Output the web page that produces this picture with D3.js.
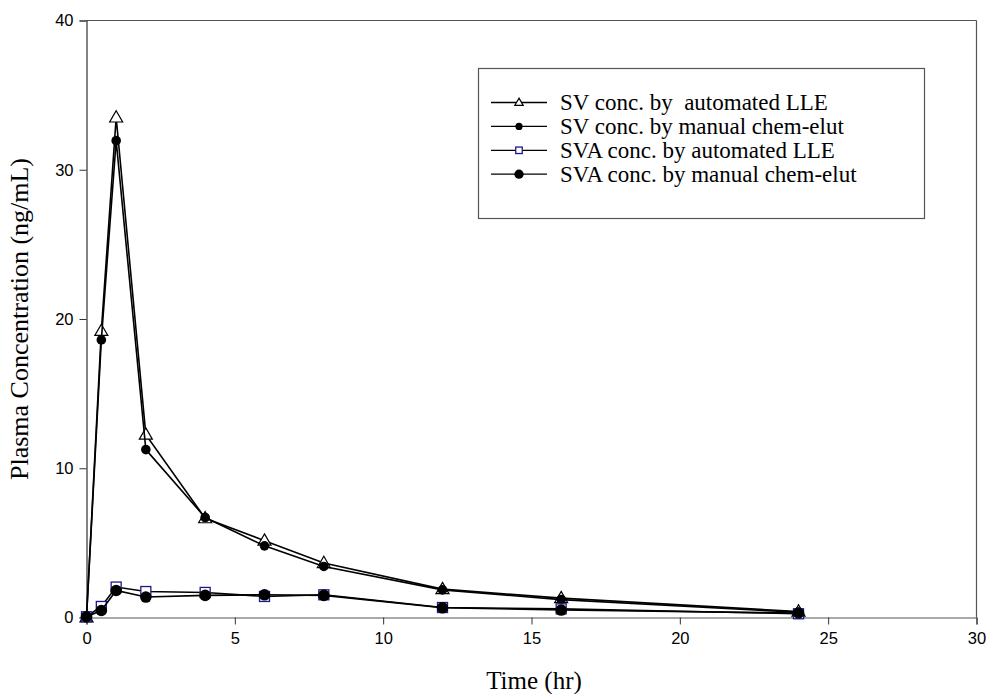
<!DOCTYPE html>
<html><head><meta charset="utf-8">
<script src="https://cdn.jsdelivr.net/npm/d3@7"></script>
<style>body{margin:0;background:#fff}svg{display:block}</style>
</head><body>
<svg id="c" width="987" height="694"></svg>
<script>
const times = [0, 0.5, 1, 2, 4, 6, 8, 12, 16, 24];
const svAuto = [0, 19.2, 33.5, 12.25, 6.65, 5.15, 3.65, 1.9, 1.3, 0.4];
const svManual = [0, 18.6, 31.95, 11.25, 6.7, 4.8, 3.42, 1.85, 1.2, 0.35];
const svaAuto = [0.05, 0.74, 2.04, 1.74, 1.68, 1.41, 1.52, 0.67, 0.58, 0.25];
const svaManual = [0.05, 0.47, 1.81, 1.37, 1.48, 1.52, 1.48, 0.65, 0.5, 0.3];
const seriesNames = ["SV conc. by\u00a0 automated LLE", "SV conc. by manual chem-elut", "SVA conc. by automated LLE", "SVA conc. by manual chem-elut"];
const xTicks = [0, 5, 10, 15, 20, 25, 30];
const yTicks = [0, 10, 20, 30, 40];

const svg = d3.select("#c");
const x = d3.scaleLinear().domain([0, 30]).range([86.5, 976.5]);
const y = d3.scaleLinear().domain([0, 40]).range([617.5, 20.5]);

const series = [
  {name: seriesNames[0], vals: svAuto, sym: "tri"},
  {name: seriesNames[1], vals: svManual, sym: "dot"},
  {name: seriesNames[2], vals: svaAuto, sym: "sq"},
  {name: seriesNames[3], vals: svaManual, sym: "bigdot"}
];

const serif = "Liberation Serif, Times New Roman, serif";

// frame
svg.append("line").attr("x1", x(0)).attr("x2", x(30)).attr("y1", y(40)).attr("y2", y(40)).attr("stroke", "#555").attr("stroke-width", 1.2);
svg.append("line").attr("x1", x(30)).attr("x2", x(30)).attr("y1", y(40)).attr("y2", y(0)).attr("stroke", "#555").attr("stroke-width", 1.2);

const xa = svg.append("g").attr("transform", `translate(0,${y(0)})`)
  .call(d3.axisBottom(x).tickValues(xTicks).tickSize(7).tickPadding(8).tickFormat(d3.format("d")));
const ya = svg.append("g").attr("transform", `translate(${x(0)},0)`)
  .call(d3.axisLeft(y).tickValues(yTicks).tickSize(7).tickPadding(6).tickFormat(d3.format("d")));
[xa, ya].forEach(a => {
  a.select(".domain").attr("stroke", "#333").attr("stroke-width", 1.2);
  a.selectAll(".tick line").attr("stroke", "#333");
  a.selectAll("text").attr("font-family", "Liberation Sans, Arial, sans-serif").attr("font-size", 16.5).attr("fill", "#000");
});
xa.select(".domain").attr("stroke", "#555");

function drawSym(g, sym, cx, cy, scale) {
  if (sym === "tri") {
    const s = 13 * scale;
    const h = s * 0.866;
    g.append("path").attr("d", `M${cx},${cy - h * 0.6}L${cx + s / 2},${cy + h * 0.4}L${cx - s / 2},${cy + h * 0.4}Z`)
      .attr("fill", "#fff").attr("stroke", "#000").attr("stroke-width", 1.2);
  } else if (sym === "dot") {
    g.append("circle").attr("cx", cx).attr("cy", cy).attr("r", 4.8 * scale).attr("fill", "#000");
  } else if (sym === "sq") {
    const s = 10 * scale;
    g.append("rect").attr("x", cx - s / 2).attr("y", cy - s / 2).attr("width", s).attr("height", s)
      .attr("fill", "#fff").attr("stroke", "#1a1a8c").attr("stroke-width", 1.3);
  } else {
    g.append("circle").attr("cx", cx).attr("cy", cy).attr("r", 5.8 * scale).attr("fill", "#000");
  }
}

const line = d3.line().x(d => x(d[0])).y(d => y(d[1]));
series.forEach(s => {
  const pts = times.map((t, i) => [t, s.vals[i]]);
  const g = svg.append("g");
  g.append("path").attr("d", line(pts)).attr("fill", "none").attr("stroke", "#000").attr("stroke-width", 1.6);
  pts.forEach(p => drawSym(g, s.sym, x(p[0]), y(p[1]), 1));
});

// legend
const lg = svg.append("g");
lg.append("rect").attr("x", 478.5).attr("y", 68.5).attr("width", 446).attr("height", 150)
  .attr("fill", "#fff").attr("stroke", "#555").attr("stroke-width", 1.2);
series.forEach((s, i) => {
  const yy = 102.5 + i * 23.9;
  lg.append("line").attr("x1", 491).attr("x2", 547).attr("y1", yy).attr("y2", yy).attr("stroke", "#000").attr("stroke-width", 1.3);
  drawSym(lg, s.sym, 519, yy, s.sym === "bigdot" ? 0.8 : (s.sym === "dot" ? 0.75 : 0.65));
  lg.append("text").attr("x", 560).attr("y", yy + 7.5).text(s.name)
    .attr("font-family", serif).attr("font-size", 23).attr("fill", "#000");
});

// axis titles
svg.append("text").attr("x", 534).attr("y", 689).attr("text-anchor", "middle").text("Time (hr)")
  .attr("font-family", serif).attr("font-size", 25);
svg.append("text").attr("transform", `translate(28,${(y(0) + y(40)) / 2}) rotate(-90)`).attr("text-anchor", "middle")
  .text("Plasma Concentration (ng/mL)")
  .attr("font-family", serif).attr("font-size", 26);
</script>
</body></html>
